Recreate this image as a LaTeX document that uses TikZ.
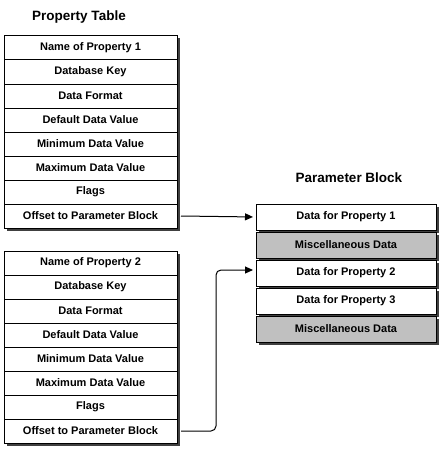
\documentclass[tikz,border=0pt]{standalone}
\usepackage{fontspec}
\setmainfont{Liberation Sans}
\usepackage{xcolor}
\definecolor{cLine}{HTML}{000000}
\definecolor{cMisc}{HTML}{C0C0C0}
\definecolor{cShadow}{HTML}{404040}
\usepackage{tikz}
\usetikzlibrary{positioning,arrows.meta,fit,shadows,backgrounds}
\tikzset{
  tab-row/.style={draw=cLine,line width=1pt,minimum width=173pt,minimum height=24pt,
    inner sep=0pt,outer sep=0pt,font=\fontsize{11}{13}\selectfont\bfseries},
  tab-frame/.style={draw=cLine,line width=1pt,fill=white,inner sep=0pt,
    drop shadow={shadow xshift=2.5pt,shadow yshift=-2.5pt,fill=cShadow,opacity=1}},
  blk-box/.style={draw=cLine,line width=1pt,fill=white,minimum width=180pt,
    minimum height=26pt,inner sep=0pt,outer sep=0pt,
    font=\fontsize{11}{13}\selectfont\bfseries,
    drop shadow={shadow xshift=2.5pt,shadow yshift=-2.5pt,fill=cShadow,opacity=1}},
  blk-misc/.style={fill=cMisc},
  title/.style={font=\fontsize{13.5}{16}\selectfont\bfseries},
  arrow/.style={-{Triangle[length=8pt,width=7pt]},line width=1pt,draw=cLine,
    shorten >=3pt},
}
\begin{document}
\begin{tikzpicture}[x=1pt,y=-1pt,node distance=0pt and 0pt]
  \useasboundingbox (0,0) rectangle (441,452);
  % Property Table, first entry
  \node[title] (t-prop) at (79,17) {Property Table};
  \node[tab-row,anchor=north west] (a1) at (4,36) {Name of Property 1};
  \node[tab-row,below=of a1] (a2) {Database Key};
  \node[tab-row,below=of a2] (a3) {Data Format};
  \node[tab-row,below=of a3] (a4) {Default Data Value};
  \node[tab-row,below=of a4] (a5) {Minimum Data Value};
  \node[tab-row,below=of a5] (a6) {Maximum Data Value};
  \node[tab-row,below=of a6] (a7) {Flags};
  \node[tab-row,below=of a7] (a8) {Offset to Parameter Block};

  % Property Table, second entry
  \node[tab-row,anchor=north west] (b1) at (4,251) {Name of Property 2};
  \node[tab-row,below=of b1] (b2) {Database Key};
  \node[tab-row,below=of b2] (b3) {Data Format};
  \node[tab-row,below=of b3] (b4) {Default Data Value};
  \node[tab-row,below=of b4] (b5) {Minimum Data Value};
  \node[tab-row,below=of b5] (b6) {Maximum Data Value};
  \node[tab-row,below=of b6] (b7) {Flags};
  \node[tab-row,below=of b7] (b8) {Offset to Parameter Block};

  \begin{scope}[on background layer]
    \node[tab-frame,fit=(a1)(a8)] (tab1) {};
    \node[tab-frame,fit=(b1)(b8)] (tab2) {};
  \end{scope}

  % Parameter Block
  \node[title] (t-blk) at (349,178) {Parameter Block};
  \node[blk-box,anchor=north west] (d1) at (256,204) {Data for Property 1};
  \node[blk-box,blk-misc,below=2pt of d1] (m1) {Miscellaneous Data};
  \node[blk-box,below=2pt of m1] (d2) {Data for Property 2};
  \node[blk-box,below=2pt of d2] (d3) {Data for Property 3};
  \node[blk-box,blk-misc,below=2pt of d3] (m2) {Miscellaneous Data};

  \draw[arrow] ([xshift=4pt]a8.east) -- (d1.west);
  \draw[arrow,rounded corners=5pt] ([xshift=4pt]b8.east)
    -| ([xshift=-40pt,yshift=3pt]d2.west) -- ([yshift=3pt]d2.west);
\end{tikzpicture}
\end{document}
